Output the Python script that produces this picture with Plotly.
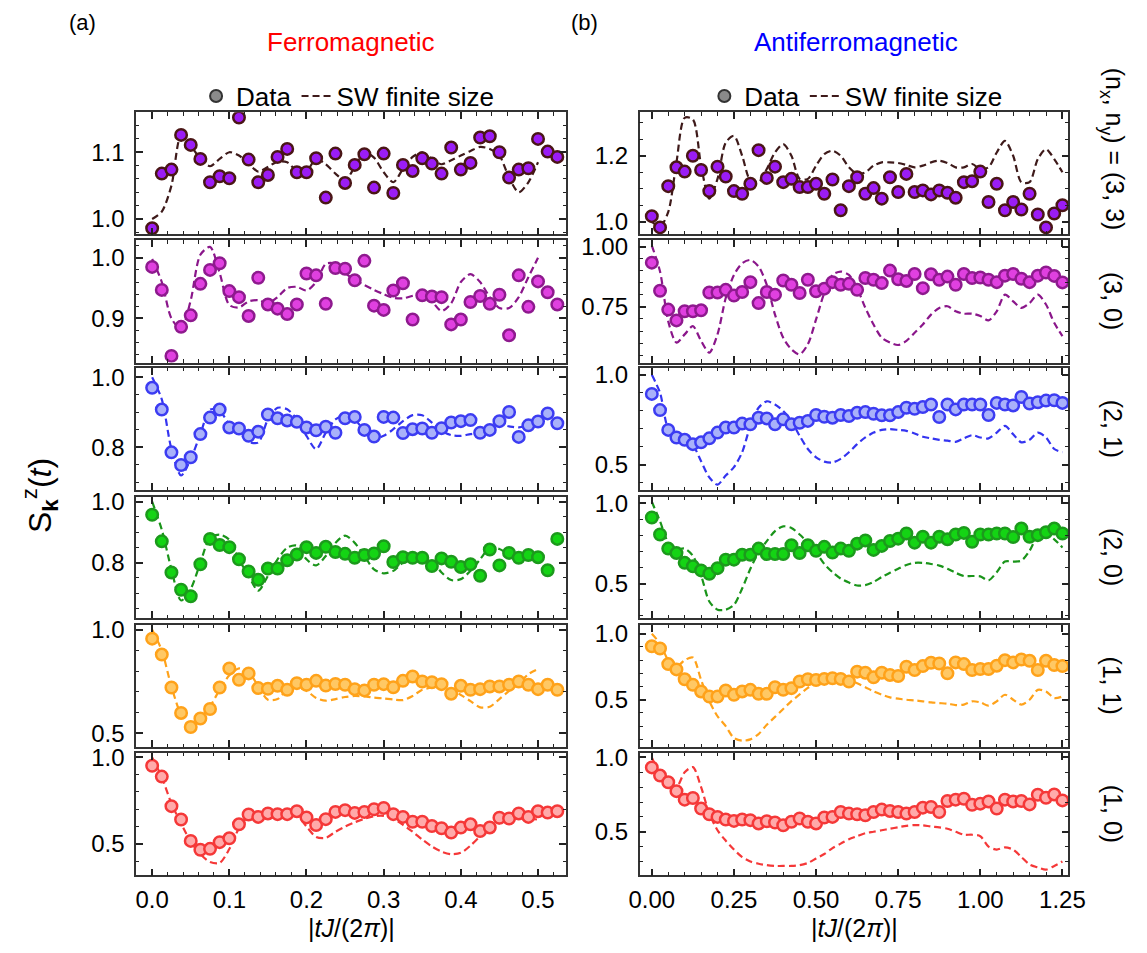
import plotly.graph_objects as go

# ---------------- time grids ----------------
t_fm = [0.0, 0.0125, 0.025, 0.0375, 0.05, 0.0625, 0.075, 0.0875, 0.1, 0.1125,
        0.125, 0.1375, 0.15, 0.1625, 0.175, 0.1875, 0.2, 0.2125, 0.225, 0.2375,
        0.25, 0.2625, 0.275, 0.2875, 0.3, 0.3125, 0.325, 0.3375, 0.35, 0.3625,
        0.375, 0.3875, 0.4, 0.4125, 0.425, 0.4375, 0.45, 0.4625, 0.475, 0.4875,
        0.5, 0.5125, 0.525]
t_afm = [0.0, 0.025, 0.05, 0.075, 0.1, 0.125, 0.15, 0.175, 0.2, 0.225,
         0.25, 0.275, 0.3, 0.325, 0.35, 0.375, 0.4, 0.425, 0.45, 0.475,
         0.5, 0.525, 0.55, 0.575, 0.6, 0.625, 0.65, 0.675, 0.7, 0.725,
         0.75, 0.775, 0.8, 0.825, 0.85, 0.875, 0.9, 0.925, 0.95, 0.975,
         1.0, 1.025, 1.05, 1.075, 1.1, 1.125, 1.15, 1.175, 1.2, 1.225, 1.25]
t_sw_fm = t_fm[:41]
t_sw_afm = t_afm

# ---------------- ferromagnetic data ----------------
fm_33 = [0.986, 1.068, 1.074, 1.126, 1.111, 1.090, 1.055, 1.064, 1.061, 1.152,
         1.089, 1.055, 1.066, 1.093, 1.105, 1.070, 1.070, 1.091, 1.032, 1.098,
         1.054, 1.081, 1.097, 1.047, 1.098, 1.039, 1.081, 1.072, 1.091, 1.083,
         1.068, 1.107, 1.074, 1.084, 1.122, 1.124, 1.100, 1.062, 1.074, 1.076,
         1.120, 1.101, 1.093]
fm_30 = [0.985, 0.947, 0.838, 0.886, 0.905, 0.957, 0.980, 0.991, 0.945, 0.935,
         0.904, 0.967, 0.923, 0.916, 0.907, 0.923, 0.974, 0.971, 0.924, 0.983,
         0.982, 0.963, 0.995, 0.921, 0.914, 0.946, 0.958, 0.898, 0.938, 0.936,
         0.935, 0.890, 0.898, 0.927, 0.937, 0.924, 0.939, 0.872, 0.971, 0.919,
         0.961, 0.943, 0.923]
fm_21 = [0.970, 0.908, 0.786, 0.750, 0.772, 0.838, 0.885, 0.908, 0.857, 0.854,
         0.833, 0.845, 0.894, 0.883, 0.877, 0.873, 0.857, 0.849, 0.859, 0.842,
         0.883, 0.887, 0.850, 0.831, 0.887, 0.885, 0.841, 0.852, 0.854, 0.842,
         0.855, 0.871, 0.875, 0.878, 0.842, 0.850, 0.875, 0.901, 0.830, 0.863,
         0.874, 0.897, 0.869]
fm_20 = [0.957, 0.870, 0.768, 0.711, 0.690, 0.795, 0.878, 0.858, 0.851, 0.811,
         0.771, 0.744, 0.781, 0.781, 0.808, 0.827, 0.851, 0.832, 0.852, 0.835,
         0.829, 0.816, 0.825, 0.830, 0.854, 0.802, 0.818, 0.816, 0.816, 0.789,
         0.814, 0.803, 0.786, 0.795, 0.757, 0.843, 0.791, 0.832, 0.816, 0.825,
         0.818, 0.775, 0.878]
fm_11 = [0.957, 0.880, 0.721, 0.598, 0.530, 0.571, 0.617, 0.721, 0.813, 0.758,
         0.789, 0.718, 0.715, 0.729, 0.710, 0.742, 0.734, 0.753, 0.730, 0.738,
         0.734, 0.713, 0.707, 0.734, 0.737, 0.722, 0.753, 0.774, 0.750, 0.746,
         0.737, 0.691, 0.729, 0.710, 0.713, 0.726, 0.726, 0.734, 0.750, 0.734,
         0.713, 0.734, 0.710]
fm_10 = [0.952, 0.889, 0.718, 0.641, 0.517, 0.466, 0.471, 0.510, 0.532, 0.613,
         0.670, 0.656, 0.676, 0.672, 0.672, 0.689, 0.653, 0.609, 0.643, 0.685,
         0.695, 0.679, 0.685, 0.700, 0.708, 0.672, 0.656, 0.628, 0.628, 0.603,
         0.590, 0.565, 0.594, 0.613, 0.574, 0.595, 0.651, 0.647, 0.676, 0.656,
         0.689, 0.681, 0.689]

# ---------------- ferromagnetic spin-wave curves ----------------
sw_fm_33 = [1.000, 1.011, 1.050, 1.125, 1.110, 1.090, 1.079, 1.090, 1.100, 1.095,
            1.083, 1.071, 1.078, 1.086, 1.085, 1.072, 1.072, 1.090, 1.082, 1.068,
            1.058, 1.078, 1.100, 1.092, 1.070, 1.055, 1.075, 1.093, 1.100, 1.090,
            1.082, 1.088, 1.095, 1.102, 1.108, 1.105, 1.095, 1.062, 1.040, 1.055,
            1.085]
sw_fm_30 = [0.998, 0.960, 0.900, 0.882, 0.930, 1.005, 1.018, 0.975, 0.922, 0.918,
            0.928, 0.930, 0.925, 0.935, 0.950, 0.952, 0.946, 0.960, 0.990, 0.990,
            0.975, 0.963, 0.955, 0.947, 0.940, 0.934, 0.933, 0.937, 0.939, 0.928,
            0.912, 0.925, 0.960, 0.973, 0.960, 0.935, 0.917, 0.917, 0.935, 0.968,
            1.000]
sw_fm_21 = [1.000, 0.937, 0.795, 0.720, 0.767, 0.838, 0.908, 0.904, 0.866, 0.842,
            0.816, 0.814, 0.880, 0.913, 0.909, 0.880, 0.833, 0.795, 0.842, 0.880,
            0.890, 0.880, 0.847, 0.825, 0.833, 0.852, 0.875, 0.892, 0.892, 0.871,
            0.847, 0.835, 0.833, 0.838, 0.842, 0.850, 0.866, 0.860, 0.857, 0.866,
            0.880]
sw_fm_20 = [1.000, 0.908, 0.778, 0.676, 0.714, 0.800, 0.881, 0.892, 0.875, 0.811,
            0.757, 0.708, 0.757, 0.811, 0.849, 0.856, 0.811, 0.791, 0.822, 0.865,
            0.889, 0.865, 0.822, 0.778, 0.765, 0.773, 0.800, 0.811, 0.811, 0.805,
            0.768, 0.743, 0.746, 0.773, 0.811, 0.849, 0.845, 0.827, 0.822, 0.827,
            0.822]
sw_fm_11 = [1.000, 0.900, 0.725, 0.590, 0.534, 0.574, 0.630, 0.710, 0.780, 0.813,
            0.797, 0.726, 0.662, 0.665, 0.710, 0.722, 0.705, 0.670, 0.657, 0.665,
            0.675, 0.680, 0.678, 0.672, 0.668, 0.663, 0.660, 0.680, 0.710, 0.720,
            0.718, 0.705, 0.685, 0.655, 0.625, 0.628, 0.665, 0.705, 0.740, 0.785,
            0.810]
sw_fm_10 = [1.000, 0.886, 0.733, 0.618, 0.513, 0.440, 0.395, 0.390, 0.470, 0.590,
            0.660, 0.668, 0.672, 0.672, 0.672, 0.666, 0.600, 0.540, 0.535, 0.570,
            0.600, 0.625, 0.645, 0.660, 0.662, 0.645, 0.610, 0.570, 0.525, 0.485,
            0.455, 0.440, 0.448, 0.490, 0.545, 0.600, 0.620, 0.637, 0.650, 0.648,
            0.640]

# ---------------- antiferromagnetic data ----------------
afm_33 = [1.017, 0.983, 1.108, 1.165, 1.152, 1.200, 1.157, 1.093, 1.167, 1.137,
          1.093, 1.085, 1.115, 1.217, 1.133, 1.167, 1.120, 1.130, 1.105, 1.105,
          1.115, 1.085, 1.128, 1.035, 1.108, 1.135, 1.085, 1.102, 1.070, 1.135,
          1.090, 1.145, 1.090, 1.095, 1.083, 1.095, 1.088, 1.073, 1.120, 1.123,
          1.152, 1.060, 1.115, 1.035, 1.060, 1.037, 1.085, 1.022, 0.983, 1.025,
          1.050]
afm_30 = [0.934, 0.817, 0.739, 0.694, 0.732, 0.732, 0.736, 0.810, 0.810, 0.821,
          0.797, 0.812, 0.853, 0.766, 0.812, 0.801, 0.860, 0.842, 0.808, 0.863,
          0.815, 0.826, 0.853, 0.842, 0.846, 0.821, 0.870, 0.863, 0.849, 0.901,
          0.865, 0.858, 0.887, 0.828, 0.886, 0.863, 0.876, 0.842, 0.887, 0.870,
          0.872, 0.863, 0.853, 0.880, 0.887, 0.867, 0.853, 0.880, 0.893, 0.879,
          0.852]
afm_21 = [0.894, 0.804, 0.694, 0.652, 0.639, 0.615, 0.625, 0.647, 0.679, 0.707,
          0.707, 0.729, 0.725, 0.762, 0.758, 0.725, 0.753, 0.725, 0.734, 0.744,
          0.777, 0.767, 0.762, 0.777, 0.771, 0.789, 0.793, 0.784, 0.775, 0.775,
          0.793, 0.817, 0.811, 0.821, 0.835, 0.766, 0.835, 0.808, 0.835, 0.835,
          0.835, 0.777, 0.844, 0.835, 0.830, 0.877, 0.841, 0.848, 0.857, 0.859,
          0.844]
afm_20 = [0.912, 0.806, 0.718, 0.690, 0.629, 0.608, 0.582, 0.561, 0.596, 0.649,
          0.649, 0.680, 0.680, 0.718, 0.684, 0.684, 0.684, 0.739, 0.690, 0.739,
          0.704, 0.729, 0.694, 0.718, 0.704, 0.749, 0.769, 0.710, 0.735, 0.765,
          0.780, 0.812, 0.755, 0.792, 0.755, 0.792, 0.776, 0.806, 0.816, 0.761,
          0.806, 0.806, 0.812, 0.812, 0.790, 0.843, 0.792, 0.802, 0.820, 0.843,
          0.812]
afm_11 = [0.905, 0.888, 0.770, 0.730, 0.655, 0.613, 0.563, 0.525, 0.525, 0.570,
          0.538, 0.563, 0.575, 0.545, 0.545, 0.595, 0.575, 0.588, 0.638, 0.655,
          0.650, 0.658, 0.663, 0.658, 0.638, 0.713, 0.705, 0.670, 0.705, 0.688,
          0.680, 0.750, 0.725, 0.755, 0.780, 0.775, 0.700, 0.783, 0.770, 0.725,
          0.733, 0.733, 0.758, 0.800, 0.783, 0.805, 0.795, 0.725, 0.795, 0.763,
          0.755]
afm_10 = [0.933, 0.878, 0.833, 0.773, 0.716, 0.727, 0.656, 0.618, 0.600, 0.582,
          0.573, 0.582, 0.578, 0.556, 0.571, 0.562, 0.544, 0.567, 0.589, 0.567,
          0.556, 0.596, 0.600, 0.633, 0.622, 0.618, 0.611, 0.633, 0.649, 0.640,
          0.633, 0.622, 0.633, 0.662, 0.667, 0.633, 0.707, 0.716, 0.722, 0.682,
          0.689, 0.704, 0.656, 0.716, 0.704, 0.707, 0.684, 0.749, 0.729, 0.751,
          0.711]

# ---------------- antiferromagnetic spin-wave curves ----------------
sw_afm_33 = [1.000, 0.985, 1.030, 1.180, 1.315, 1.310, 1.170, 1.070, 1.130, 1.240,
             1.260, 1.200, 1.125, 1.120, 1.160, 1.210, 1.235, 1.200, 1.130, 1.130,
             1.170, 1.205, 1.215, 1.200, 1.165, 1.145, 1.150, 1.170, 1.180, 1.180,
             1.178, 1.172, 1.165, 1.170, 1.180, 1.185, 1.178, 1.165, 1.165, 1.175,
             1.160, 1.165, 1.210, 1.245, 1.200, 1.120, 1.120, 1.190, 1.220, 1.190,
             1.150]
sw_afm_30 = [1.005, 0.897, 0.690, 0.602, 0.636, 0.670, 0.609, 0.560, 0.636, 0.787,
             0.883, 0.931, 0.945, 0.918, 0.842, 0.718, 0.622, 0.574, 0.553, 0.595,
             0.698, 0.808, 0.883, 0.897, 0.883, 0.828, 0.746, 0.677, 0.622, 0.602,
             0.592, 0.609, 0.643, 0.677, 0.718, 0.746, 0.753, 0.732, 0.722, 0.722,
             0.712, 0.694, 0.732, 0.801, 0.773, 0.746, 0.766, 0.801, 0.760, 0.684,
             0.629]
sw_afm_21 = [1.000, 0.900, 0.700, 0.660, 0.645, 0.610, 0.520, 0.430, 0.390, 0.440,
             0.487, 0.570, 0.716, 0.817, 0.853, 0.835, 0.799, 0.744, 0.661, 0.588,
             0.542, 0.518, 0.513, 0.533, 0.570, 0.615, 0.652, 0.679, 0.694, 0.698,
             0.694, 0.689, 0.674, 0.656, 0.647, 0.639, 0.634, 0.628, 0.647, 0.665,
             0.652, 0.647, 0.679, 0.716, 0.670, 0.625, 0.639, 0.679, 0.652, 0.588,
             0.570]
sw_afm_20 = [1.010, 0.888, 0.755, 0.714, 0.718, 0.673, 0.551, 0.388, 0.337, 0.337,
             0.367, 0.469, 0.592, 0.694, 0.765, 0.827, 0.857, 0.847, 0.806, 0.755,
             0.694, 0.622, 0.571, 0.531, 0.506, 0.488, 0.490, 0.510, 0.541, 0.567,
             0.592, 0.616, 0.629, 0.629, 0.622, 0.612, 0.592, 0.567, 0.547, 0.547,
             0.545, 0.520, 0.571, 0.637, 0.637, 0.643, 0.704, 0.796, 0.806, 0.776,
             0.724]
sw_afm_11 = [1.000, 0.925, 0.800, 0.750, 0.800, 0.820, 0.650, 0.490, 0.375, 0.300,
             0.210, 0.190, 0.200, 0.240, 0.310, 0.370, 0.430, 0.490, 0.540, 0.590,
             0.625, 0.650, 0.663, 0.663, 0.650, 0.625, 0.595, 0.563, 0.538, 0.518,
             0.508, 0.500, 0.495, 0.488, 0.480, 0.475, 0.470, 0.460, 0.463, 0.488,
             0.480, 0.455, 0.488, 0.538, 0.500, 0.463, 0.500, 0.575, 0.563, 0.513,
             0.525]
sw_afm_10 = [1.000, 0.889, 0.833, 0.800, 0.900, 0.935, 0.800, 0.622, 0.510, 0.440,
             0.380, 0.330, 0.300, 0.285, 0.275, 0.270, 0.270, 0.270, 0.275, 0.290,
             0.320, 0.350, 0.390, 0.420, 0.450, 0.470, 0.490, 0.500, 0.510, 0.520,
             0.530, 0.540, 0.545, 0.543, 0.535, 0.530, 0.520, 0.500, 0.480, 0.480,
             0.470, 0.400, 0.380, 0.395, 0.380, 0.330, 0.280, 0.260, 0.245, 0.270,
             0.300]

row_labels = ["(3, 3)", "(3, 0)", "(2, 1)", "(2, 0)", "(1, 1)", "(1, 0)"]
fm_rows = [fm_33, fm_30, fm_21, fm_20, fm_11, fm_10]
afm_rows = [afm_33, afm_30, afm_21, afm_20, afm_11, afm_10]
sw_fm_rows = [sw_fm_33, sw_fm_30, sw_fm_21, sw_fm_20, sw_fm_11, sw_fm_10]
sw_afm_rows = [sw_afm_33, sw_afm_30, sw_afm_21, sw_afm_20, sw_afm_11, sw_afm_10]

# marker fill, marker edge, dashed line colour per row
fills = ["#9B1CF5", "#E040E0", "#A9B1FA", "#14D414", "#FFC864", "#FFAAAA"]
edges = ["#4A1616", "#8E1A8E", "#3C3CF2", "#1C9A1C", "#FFA21A", "#F53838"]
lines = ["#3E1A1A", "#8A168A", "#3434F0", "#1A941A", "#FFA21A", "#F53838"]

# y ranges, major ticks and minor step per row (left / right column)
yr_fm = [[0.977, 1.160], [0.827, 1.029], [0.678, 1.026], [0.619, 1.016], [0.434, 1.024], [0.318, 1.025]]
yr_afm = [[0.962, 1.332], [0.519, 1.027], [0.359, 1.037], [0.286, 1.041], [0.143, 1.068], [0.207, 1.029]]
yt_fm = [[1.0, 1.1], [0.9, 1.0], [0.8, 1.0], [0.8, 1.0], [0.5, 1.0], [0.5, 1.0]]
yt_afm = [[1.0, 1.2], [0.75, 1.0], [0.5, 1.0], [0.5, 1.0], [0.5, 1.0], [0.5, 1.0]]
ymin_fm = [0.02, 0.02, 0.05, 0.05, 0.1, 0.1]
ymin_afm = [0.05, 0.05, 0.1, 0.1, 0.1, 0.1]
yfmt_fm = [".1f"] * 6
yfmt_afm = [".1f", ".2f", ".1f", ".1f", ".1f", ".1f"]

W, H = 1147, 953
row_px = [(104.3, 227.7), (233.7, 357.3), (363.0, 486.3), (493.0, 615.3), (622.3, 745.7), (752.0, 875.5)]
col_px = [(128.3, 569.0), (644.4, 1083.8)]
xr = [[-0.0207, 0.5364], [-0.037, 1.268]]

FONT = "Liberation Sans, Arial, Helvetica, sans-serif"
AXC = "#333333"
FS = 24

fig = go.Figure()
layout = dict(width=W, height=H, margin=dict(l=0, r=0, t=0, b=0),
              paper_bgcolor="white", plot_bgcolor="white",
              font=dict(family=FONT, size=FS, color="black"), showlegend=True)

for r in range(6):
    for c in range(2):
        k = r * 2 + c + 1
        xa = "x" if k == 1 else f"x{k}"
        ya = "y" if k == 1 else f"y{k}"
        if c == 0:
            ts, tsw, d, sw = t_fm, t_sw_fm, fm_rows[r], sw_fm_rows[r]
            yrng, ytk, ymn, yfmt = yr_fm[r], yt_fm[r], ymin_fm[r], yfmt_fm[r]
            xtk, xmn, xfmt = [0.0, 0.1, 0.2, 0.3, 0.4, 0.5], 0.02, ".1f"
        else:
            ts, tsw, d, sw = t_afm, t_sw_afm, afm_rows[r], sw_afm_rows[r]
            yrng, ytk, ymn, yfmt = yr_afm[r], yt_afm[r], ymin_afm[r], yfmt_afm[r]
            xtk, xmn, xfmt = [0.0, 0.25, 0.5, 0.75, 1.0, 1.25], 0.05, ".2f"

        fig.add_trace(go.Scatter(x=tsw, y=sw, mode="lines", xaxis=xa, yaxis=ya,
                                 line=dict(color=lines[r], width=2.2, dash="7px,4px",
                                           shape="spline", smoothing=0.8),
                                 showlegend=False, hoverinfo="skip"))
        fig.add_trace(go.Scatter(x=ts, y=d, mode="markers", xaxis=xa, yaxis=ya,
                                 marker=dict(size=11.5, color=fills[r],
                                             line=dict(color=edges[r], width=2.5)),
                                 showlegend=False))

        y0, y1 = row_px[r]
        x0, x1 = col_px[c]
        xkey = "xaxis" if k == 1 else f"xaxis{k}"
        ykey = "yaxis" if k == 1 else f"yaxis{k}"
        layout[xkey] = dict(domain=[x0 / W, x1 / W], anchor=ya, range=xr[c],
                            tickmode="array", tickvals=xtk, tickformat=xfmt,
                            showticklabels=(r == 5), ticks="inside", ticklen=7,
                            tickwidth=1.5, tickcolor="#222", mirror="allticks",
                            showline=True, linewidth=1.6, linecolor=AXC,
                            showgrid=False, zeroline=False, ticklabelstandoff=2,
                            minor=dict(ticks="inside", ticklen=3.5, tickwidth=1,
                                       tickcolor="#222", dtick=xmn, tick0=0, showgrid=False),
                            tickfont=dict(size=FS))
        layout[ykey] = dict(domain=[1 - y1 / H, 1 - y0 / H], anchor=xa, range=yrng,
                            tickmode="array", tickvals=ytk, tickformat=yfmt,
                            ticks="inside", ticklen=7, tickwidth=1.5, tickcolor="#222",
                            mirror="allticks", showline=True, linewidth=1.6, linecolor=AXC,
                            showgrid=False, zeroline=False, ticklabelstandoff=5,
                            minor=dict(ticks="inside", ticklen=3.5, tickwidth=1,
                                       tickcolor="#222", dtick=ymn, tick0=0, showgrid=False),
                            tickfont=dict(size=FS))

# legend entries (one legend per column)
for lg in ["legend", "legend2"]:
    fig.add_trace(go.Scatter(x=[None], y=[None], mode="markers", name="Data", legend=lg,
                             marker=dict(size=12, color="#8A8A8A",
                                         line=dict(color="#333333", width=2))))
    fig.add_trace(go.Scatter(x=[None], y=[None], mode="lines", name="SW finite size",
                             legend=lg, line=dict(color="#3E1A1A", width=2.2, dash="7px,4px")))

leg_common = dict(orientation="h", yanchor="middle", xanchor="center",
                  bgcolor="rgba(0,0,0,0)", font=dict(size=26), itemwidth=30,
                  tracegroupgap=0)
layout["legend"] = dict(x=345 / W, y=1 - 88 / H, **leg_common)
layout["legend2"] = dict(x=866 / W, y=1 - 88 / H, **leg_common)


def note(text, xp, yp, size=FS, color="black", angle=0, xanchor="center", yanchor="middle"):
    return dict(text=text, x=xp / W, y=1 - yp / H, xref="paper", yref="paper",
                xanchor=xanchor, yanchor=yanchor, textangle=angle, showarrow=False,
                font=dict(size=size, color=color))


ann = []
# column titles and panel letters
ann.append(note("Ferromagnetic", 348, 33, size=26, color="#FF0000"))
ann.append(note("Antiferromagnetic", 866, 33, size=26, color="#0000FF"))
ann.append(note("(a)", 73, 14, size=22))
ann.append(note("(b)", 588, 14, size=22))
# row labels on the right, rotated
for r in range(6):
    y0, y1 = row_px[r]
    if r == 0:
        ann.append(note("(n<sub>x</sub>, n<sub>y</sub>) = (3, 3)", 1129, 226,
                        size=25, angle=90, yanchor="bottom"))
    else:
        ann.append(note(row_labels[r], 1129, (y0 + y1) / 2, size=25, angle=90))
# axis titles
ann.append(note("S<sub><b>k</b></sub><sup>z</sup>(<i>t</i>)", 30, 492, size=32, angle=-90))
for xc in [(128.3 + 569.0) / 2, (644.4 + 1083.8) / 2]:
    ann.append(note("|<i>tJ</i>/(2<i>π</i>)|", xc, 929, size=25))
layout["annotations"] = ann

fig.update_layout(**layout)
fig.write_html("out.html")
